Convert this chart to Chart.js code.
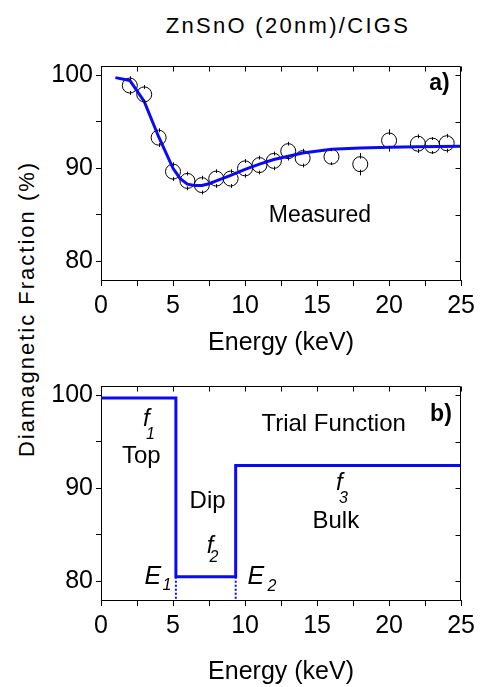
<!DOCTYPE html>
<html>
<head>
<meta charset="utf-8">
<script src="https://cdn.jsdelivr.net/npm/chart.js@4"></script>
<style>
  body { margin: 0; background: #fff; }
  #wrap { position: relative; width: 480px; height: 687px; font-family: "Liberation Sans", Arial, sans-serif; color: #000; }
  canvas { position: absolute; left: 0; }
  #figTitle { position: absolute; left: 288px; top: 26px; transform: translate(-50%, -50%); font-size: 22px; letter-spacing: 2.3px; white-space: nowrap; }
  #yLabel { position: absolute; left: 27px; top: 309px; transform: translate(-50%, -50%) rotate(-90deg); font-size: 22px; letter-spacing: 2px; white-space: nowrap; }
</style>
</head>
<body>
<div id="wrap">
  <div id="figTitle">ZnSnO (20nm)/CIGS</div>
  <div id="yLabel">Diamagnetic Fraction (%)</div>
  <canvas id="measuredChart" width="480" height="372" style="top:0"></canvas>
  <canvas id="trialChart" width="480" height="327" style="top:360px"></canvas>
</div>
<script>
// axis ticks
const xTickMarks = [0, 2.5, 5, 7.5, 10, 12.5, 15, 17.5, 20, 22.5, 25];
const xTickLabels = [0, 5, 10, 15, 20, 25];
const yTickMarks = [80, 85, 90, 95, 100];
const yTickLabels = [80, 90, 100];

// a) measured diamagnetic fraction
const energy = [2, 3, 4, 5, 6, 7, 8, 9, 10, 11, 12, 13, 14, 16, 18, 20, 22, 23, 24];
const fraction = [98.9, 97.95, 93.3, 89.65, 88.65, 88.2, 88.9, 88.9, 90.0, 90.35, 90.8, 91.85, 91.1, 91.25, 90.45, 93.0, 92.65, 92.45, 92.7];
const fractionErr = [1.0, 1.0, 1.0, 1.0, 1.0, 1.0, 1.0, 1.0, 1.0, 1.0, 1.0, 1.0, 1.0, 0.9, 1.2, 1.2, 1.0, 0.9, 1.0];

// fitted curve
const fitEnergy = [1, 2, 3, 4, 5, 5.5, 6, 6.5, 7, 7.5, 8, 9, 10, 11, 12, 13, 14, 16, 18, 20, 22, 25];
const fitFraction = [99.75, 99.45, 97.2, 93.4, 90.0, 88.9, 88.3, 88.15, 88.15, 88.35, 88.65, 89.25, 89.9, 90.45, 90.95, 91.3, 91.65, 92.05, 92.2, 92.28, 92.33, 92.38];

// b) trial step function
const stepEnergy = [0, 5.2, 5.2, 9.35, 9.35, 25];
const stepFraction = [99.7, 99.7, 80.5, 80.5, 92.45, 92.45];
const edgeEnergy = [5.2, 9.35];   // E1, E2
const dipFraction = 80.5;

const yMin = 78, yMax = 101;
const blue = '#0a0af5';
Chart.defaults.font.family = "'Liberation Sans', Arial, sans-serif";
Chart.defaults.color = '#000';

const toPoints = (xs, ys) => xs.map((x, i) => ({x: x, y: ys[i]}));

// ticks on top and right edges point inward
const framePlugin = {
    id: 'frame',
    afterDraw(chart) {
        const {ctx, chartArea: a, scales: {x, y}} = chart;
        const top = Math.round(a.top) + 0.5, right = Math.round(a.right) - 0.5;
        ctx.save();
        ctx.strokeStyle = '#000';
        ctx.lineWidth = 1;
        ctx.beginPath();
        ctx.moveTo(a.left, top);
        ctx.lineTo(right, top);
        ctx.lineTo(right, a.bottom);
        xTickMarks.forEach(v => {
            const px = Math.round(x.getPixelForValue(v)) + 0.5;
            ctx.moveTo(px, top);
            ctx.lineTo(px, top + 5);
        });
        yTickMarks.forEach(v => {
            const py = Math.round(y.getPixelForValue(v)) + 0.5;
            ctx.moveTo(right, py);
            ctx.lineTo(right - 5, py);
        });
        ctx.stroke();
        ctx.restore();
    }
};

// text placed in data coordinates
const textPlugin = {
    id: 'panelText',
    afterDraw(chart, args, opts) {
        const {ctx, scales: {x, y}} = chart;
        ctx.save();
        ctx.fillStyle = '#000';
        ctx.textAlign = 'center';
        ctx.textBaseline = 'middle';
        opts.items.forEach(t => {
            const px = x.getPixelForValue(t.x), py = y.getPixelForValue(t.y);
            ctx.font = t.font;
            ctx.fillText(t.text, px, py);
            if (t.sub) {
                ctx.font = t.subFont;
                ctx.fillText(t.sub, px + t.subDx, py + t.subDy);
            }
        });
        ctx.restore();
    }
};

const errorBarPlugin = {
    id: 'errorBars',
    afterDatasetsDraw(chart) {
        const {ctx, scales: {y}} = chart;
        const meta = chart.getDatasetMeta(1);
        ctx.save();
        ctx.strokeStyle = '#000';
        ctx.lineWidth = 1;
        ctx.beginPath();
        meta.data.forEach((pt, i) => {
            const r = pt.options.radius;
            const px = Math.round(pt.x) + 0.5;
            ctx.moveTo(px, y.getPixelForValue(fraction[i] + fractionErr[i]));
            ctx.lineTo(px, pt.y - r + 2);
            ctx.moveTo(px, pt.y + r - 2);
            ctx.lineTo(px, y.getPixelForValue(fraction[i] - fractionErr[i]));
        });
        ctx.stroke();
        ctx.restore();
    }
};

function panelOptions(padTop, axisHeight, titlePad, texts) {
    return {
        responsive: false,
        animation: false,
        layout: {padding: {top: padTop, right: 18, left: 0, bottom: 0}},
        plugins: {
            legend: {display: false},
            tooltip: {enabled: false},
            panelText: {items: texts}
        },
        scales: {
            x: {
                type: 'linear', min: 0, max: 25,
                afterBuildTicks: s => { s.ticks = xTickMarks.map(v => ({value: v})); },
                afterFit: s => { s.height = axisHeight; },
                ticks: {
                    callback: v => xTickLabels.includes(v) ? v : '',
                    font: {size: 25}, padding: 5, maxRotation: 0, autoSkip: false
                },
                grid: {drawOnChartArea: false, color: '#000', tickLength: 6},
                border: {color: '#000', width: 1},
                title: {display: true, text: 'Energy (keV)', font: {size: 25}, padding: {top: 0, bottom: titlePad}}
            },
            y: {
                min: yMin, max: yMax,
                afterBuildTicks: s => { s.ticks = yTickMarks.map(v => ({value: v})); },
                afterFit: s => { s.width = 101; },
                ticks: {
                    callback: v => yTickLabels.includes(v) ? v : '',
                    font: {size: 25}, padding: 3
                },
                grid: {drawOnChartArea: false, color: '#000', tickLength: 5},
                border: {color: '#000', width: 1}
            }
        }
    };
}

const measuredTexts = [
    {text: 'Measured', x: 15.2, y: 84.9, font: '23px "Liberation Sans", Arial'},
    {text: 'a)', x: 23.5, y: 99.05, font: 'bold 23px "Liberation Sans", Arial'}
];

const trialTexts = [
    {text: 'f', sub: '1', x: 3.15, y: 97.4, subDx: 4, subDy: 15, font: 'italic 24px "Liberation Sans", Arial', subFont: 'italic 16px "Liberation Sans", Arial'},
    {text: 'Top', x: 2.8, y: 93.4, font: '24px "Liberation Sans", Arial'},
    {text: 'Dip', x: 7.4, y: 88.6, font: '24px "Liberation Sans", Arial'},
    {text: 'f', sub: '2', x: 7.57, y: 83.75, subDx: 4, subDy: 11, font: 'italic 24px "Liberation Sans", Arial', subFont: 'italic 16px "Liberation Sans", Arial'},
    {text: 'E', sub: '1', x: 3.6, y: 80.5, subDx: 14, subDy: 9, font: 'italic 25px "Liberation Sans", Arial', subFont: 'italic 16px "Liberation Sans", Arial'},
    {text: 'E', sub: '2', x: 10.75, y: 80.5, subDx: 16, subDy: 10, font: 'italic 25px "Liberation Sans", Arial', subFont: 'italic 16px "Liberation Sans", Arial'},
    {text: 'f', sub: '3', x: 16.55, y: 90.55, subDx: 4, subDy: 15, font: 'italic 24px "Liberation Sans", Arial', subFont: 'italic 16px "Liberation Sans", Arial'},
    {text: 'Bulk', x: 16.3, y: 86.4, font: '24px "Liberation Sans", Arial'},
    {text: 'Trial Function', x: 16.15, y: 96.85, font: '24px "Liberation Sans", Arial'},
    {text: 'b)', x: 23.6, y: 97.9, font: 'bold 23px "Liberation Sans", Arial'}
];

new Chart(document.getElementById('measuredChart'), {
    type: 'scatter',
    data: {
        datasets: [{
            label: 'fit',
            data: toPoints(fitEnergy, fitFraction),
            showLine: true,
            borderColor: blue,
            borderWidth: 3,
            pointRadius: 0,
            tension: 0,
            order: 0
        }, {
            label: 'measured',
            data: toPoints(energy, fraction),
            pointRadius: 7.5,
            pointBorderWidth: 1,
            pointBorderColor: '#000',
            pointBackgroundColor: 'rgba(0,0,0,0)',
            order: 1
        }]
    },
    options: panelOptions(66, 92, 14, measuredTexts),
    plugins: [errorBarPlugin, framePlugin, textPlugin]
});

new Chart(document.getElementById('trialChart'), {
    type: 'scatter',
    data: {
        datasets: [{
            label: 'trial',
            data: toPoints(stepEnergy, stepFraction),
            showLine: true,
            borderColor: blue,
            borderWidth: 3,
            pointRadius: 0,
            tension: 0
        }].concat(edgeEnergy.map(e => ({
            label: 'edge',
            data: [{x: e, y: dipFraction}, {x: e, y: yMin}],
            showLine: true,
            borderColor: blue,
            borderWidth: 2,
            borderDash: [2, 2],
            pointRadius: 0
        })))
    },
    options: panelOptions(26, 87, 0, trialTexts),
    plugins: [framePlugin, textPlugin]
});
</script>
</body>
</html>
